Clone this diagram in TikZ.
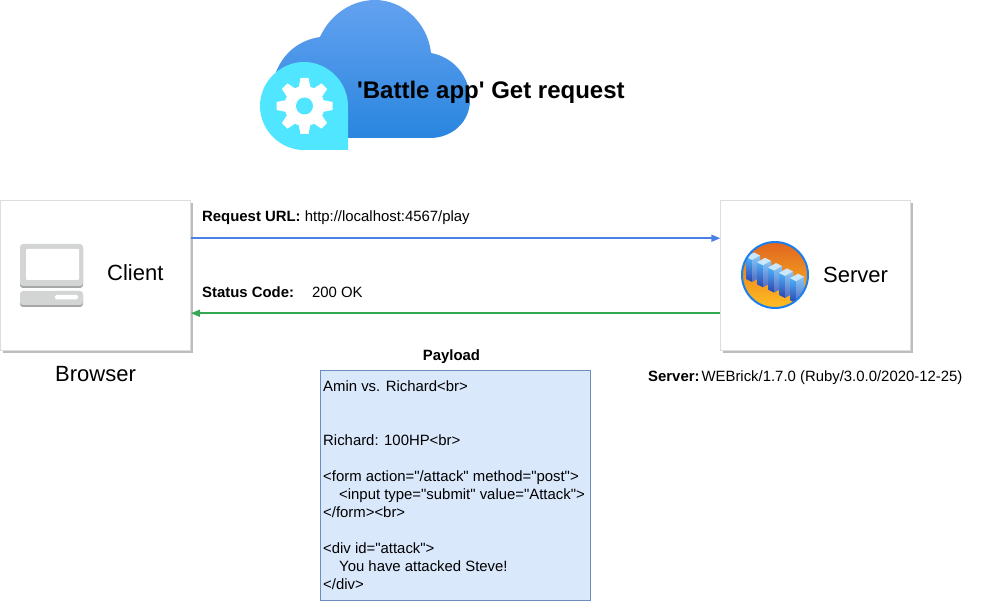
\documentclass[tikz,border=0pt]{standalone}
\usepackage{fontspec}
\newfontfamily\labelfont{Liberation Sans}
\usepackage{xcolor}
\definecolor{qblue}{HTML}{4A7FE8}
\definecolor{qgreen}{HTML}{34A853}
\definecolor{qcyan}{HTML}{50E6FF}
\definecolor{qedge}{HTML}{DDDDDD}
\definecolor{qshade}{HTML}{BDBDBD}
\definecolor{qgray}{HTML}{D3D5D5}
\definecolor{qdark}{HTML}{A6A6A6}
\definecolor{qfill}{HTML}{DAE8FC}
\definecolor{qline}{HTML}{6C8EBF}
\definecolor{qring}{HTML}{1A7FEE}
\definecolor{qcloudtop}{HTML}{63A1F0}
\definecolor{qcloudlow}{HTML}{2A86DF}
\definecolor{qsunset}{HTML}{E0661F}
\definecolor{qsunrise}{HTML}{FFBE22}
\definecolor{qrack}{HTML}{4FB0F8}
\definecolor{qrackb}{HTML}{2A45B0}
\usetikzlibrary{arrows.meta,positioning,shadows}
\newcommand{\sizedfont}[2]{\fontsize{#1}{#2}\selectfont\labelfont}

\begin{document}
\begin{tikzpicture}[x=1pt,y=-1pt,
  panel/.style={rectangle,draw=qedge,fill=white,line width=0.8pt,minimum width=190pt,minimum height=150pt,
    general shadow={shadow xshift=2pt,shadow yshift=-2pt,fill=qshade}},
  plain/.style={inner sep=0pt,font=\sizedfont{14.9}{18}},
  side/.style={inner sep=0pt,font=\sizedfont{22}{26}},
  send/.style={qblue,line width=1.5pt,-{Triangle[length=9pt,width=7pt]}},
  back/.style={qgreen,line width=1.5pt,-{Triangle[length=9pt,width=7pt]}}]
\useasboundingbox (0,0) rectangle (986,601);
% cloud with cog
\shade[top color=qcloudtop,bottom color=qcloudlow]
  (300,138) -- (430,138) .. controls (452,138) and (470,122) .. (470,100)
  .. controls (470,76) and (453,57) .. (431,53)
  .. controls (428,24) and (404,0) .. (375,0)
  .. controls (351,0) and (330,15) .. (320,37)
  .. controls (300,40) and (284,52) .. (276,72) -- (300,110) -- cycle;
\fill[qcyan] (348,106) -- (348,150) -- (304,150) .. controls (280,150) and (260,130) .. (260,106)
  .. controls (260,82) and (280,62) .. (304,62) .. controls (328,62) and (348,82) .. (348,106) -- cycle;
\foreach \a in {0,45,...,315}{
  \fill[white,shift={(304.5,106)},rotate=\a] (-6,-18) -- (-4,-28) -- (4,-28) -- (6,-18) -- cycle;}
\fill[white] (304.5,106) circle (20);
\fill[qcyan] (304.5,106) circle (8.5);
\node[inner sep=0pt,anchor=base west,font=\bfseries\sizedfont{24}{28}] (title) at (357,99) {'Battle app' Get request};
% client and server
\node[panel] (client) at (95.5,275.75) {};
\node[panel] (server) at (815.75,275.75) {};
\fill[qdark,rounded corners=3pt] (20,246) rectangle (83,288);
\fill[qgray,rounded corners=3pt] (20,244) rectangle (83,286);
\fill[white,rounded corners=1pt] (26,249) rectangle (79,280);
\fill[qdark,rounded corners=3pt] (20,293) rectangle (83,307);
\fill[qgray,rounded corners=3pt] (20,291) rectangle (83,305);
\fill[white,rounded corners=1.5pt] (55,295) rectangle (78,299.5);
\node[side,anchor=base west] (clientlabel) at (107,281) {Client};
\begin{scope}
  \clip (775,275) circle (33);
  \shade[top color=qsunset,bottom color=qsunrise] (742,242) rectangle (808,308);
  \foreach \i in {0,...,4}{
    \begin{scope}[shift={(\i*11+746,\i*5.3+257)}]
      \shade[top color=qrack,bottom color=qrackb] (0,0) -- (6,3) -- (6,25) -- (0,22) -- cycle;
      \shade[top color=qrack!70!white,bottom color=qrackb!80!white] (6,3) -- (14,-1.5) -- (14,20.5) -- (6,25) -- cycle;
      \fill[white!70!qrack] (0,0) -- (8,-4.5) -- (14,-1.5) -- (6,3) -- cycle;
    \end{scope}}
\end{scope}
\draw[qring,line width=2pt] (775,275) circle (33);
\node[side,anchor=base west] (serverlabel) at (823,283) {Server};
\node[side,below=15pt of client] (browser) {Browser};
% connectors
\draw[send] ([yshift=37.5pt]client.east) -- ([yshift=37.5pt]server.west);
\draw[back] ([yshift=-37.5pt]server.west) -- ([yshift=-37.5pt]client.east);
\node[plain,anchor=base west] (request) at (202,222) {\textbf{Request URL:} http://localhost:4567/play};
\node[plain,anchor=base west] (status) at (202,298) {\textbf{Status Code:}\hspace{18pt}200 OK};
\node[plain,anchor=base west] (software) at (648,382) {\textbf{Server:}\hspace{2pt}WEBrick/1.7.0 (Ruby/3.0.0/2020-12-25)};
% payload
\node[rectangle,draw=qline,fill=qfill,line width=0.8pt,minimum width=270pt,minimum height=230pt] (payload) at (455.5,485.5) {};
\node[plain,above=6pt of payload,xshift=-4pt,font=\bfseries\sizedfont{14.9}{18}] (payloadtitle) {Payload};
\node[plain,anchor=north west,align=left] (markup) at (323,381) {Amin vs. Richard<br>\\[36pt]
  Richard: 100HP<br>\\[18pt]
  <form action="/attack" method="post">\\
  \hspace*{16pt}<input type="submit" value="Attack">\\
  </form><br>\\[18pt]
  <div id="attack">\\
  \hspace*{16pt}You have attacked Steve!\\
  </div>};
\end{tikzpicture}
\end{document}
